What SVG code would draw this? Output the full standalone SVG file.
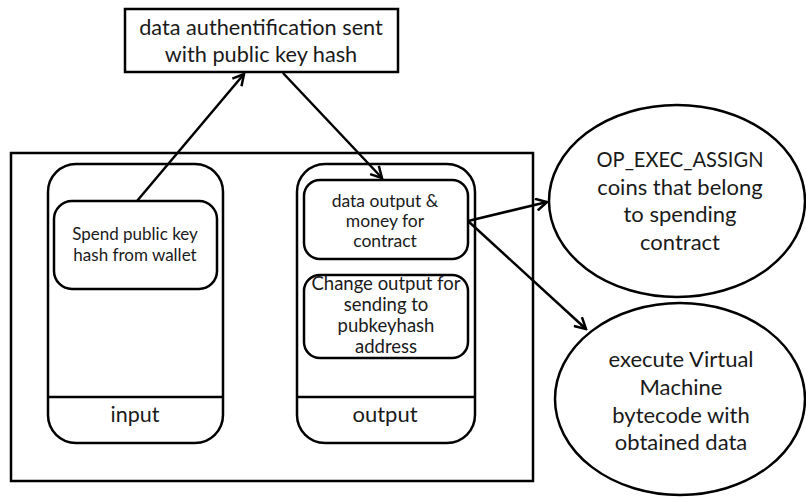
<svg xmlns="http://www.w3.org/2000/svg" width="806" height="498" viewBox="0 0 806 498">
<defs>
<style>
.s{fill:#fff;stroke:#000;stroke-width:2.5}
.n{fill:none;stroke:#000;stroke-width:2.5}
.t{font-family:Lato,"Liberation Sans",sans-serif;fill:#1a1a1a;text-anchor:middle}
.c{stroke:#000;stroke-width:2.5;fill:none;marker-end:url(#ah)}
</style>
<marker id="ah" viewBox="0 0 14 14" refX="12" refY="7" markerWidth="14" markerHeight="14" markerUnits="userSpaceOnUse" orient="auto">
<path d="M1,1 L12,7 L1,13" fill="none" stroke="#000" stroke-width="2.5"/>
</marker>
</defs>
<rect width="806" height="498" fill="#fff"/>
<g id="frame"><rect class="n" x="11" y="153" width="522" height="328"/></g>
<g id="top">
<rect class="s" x="125" y="9" width="273" height="63"/>
<text class="t" x="261" y="35" font-size="21.7">data authentification sent</text>
<text class="t" x="261" y="62" font-size="21.7">with public key hash</text>
</g>
<g id="input">
<rect class="s" x="48" y="164" width="175" height="279" rx="28"/>
<line class="n" x1="48" y1="397" x2="223" y2="397"/>
<text class="t" x="135" y="422" font-size="21.5">input</text>
</g>
<g id="spend">
<rect class="s" x="54" y="201" width="163" height="88" rx="18"/>
<text class="t" x="135" y="240" font-size="17">Spend public key</text>
<text class="t" x="135" y="261" font-size="17">hash from wallet</text>
</g>
<g id="output">
<rect class="s" x="297" y="164" width="178" height="279" rx="28"/>
<line class="n" x1="297" y1="397" x2="475" y2="397"/>
<text class="t" x="385" y="422" font-size="22">output</text>
</g>
<g id="dataout">
<rect class="s" x="304" y="180" width="164" height="79" rx="16"/>
<text class="t" x="385" y="207" font-size="17.5">data output &amp;</text>
<text class="t" x="385" y="227" font-size="17.5">money for</text>
<text class="t" x="385" y="247" font-size="17.5">contract</text>
</g>
<g id="change">
<rect class="s" x="304" y="275" width="164" height="83" rx="16"/>
<text class="t" x="386" y="290" font-size="18.5">Change output for</text>
<text class="t" x="386" y="311" font-size="18.5">sending to</text>
<text class="t" x="386" y="332" font-size="18.5">pubkeyhash</text>
<text class="t" x="386" y="353" font-size="18.5">address</text>
</g>
<g id="assign">
<ellipse class="s" cx="677" cy="201" rx="128" ry="96"/>
<text class="t" x="680" y="167" font-size="22" textLength="167" lengthAdjust="spacingAndGlyphs">OP_EXEC_ASSIGN</text>
<text class="t" x="680" y="195" font-size="22">coins that belong</text>
<text class="t" x="680" y="222" font-size="22">to spending</text>
<text class="t" x="680" y="250" font-size="22">contract</text>
</g>
<g id="vm">
<ellipse class="s" cx="680" cy="399" rx="125" ry="96"/>
<text class="t" x="681" y="367" font-size="22">execute Virtual</text>
<text class="t" x="681" y="395" font-size="22">Machine</text>
<text class="t" x="681" y="423" font-size="22">bytecode with</text>
<text class="t" x="681" y="450" font-size="22">obtained data</text>
</g>
<g id="connectors">
<line class="c" x1="137" y1="201" x2="244" y2="74"/>
<line class="c" x1="283" y1="73" x2="382" y2="178"/>
<line class="c" x1="468" y1="221" x2="547" y2="202"/>
<line class="c" x1="468" y1="221" x2="586" y2="329"/>
</g>
</svg>
